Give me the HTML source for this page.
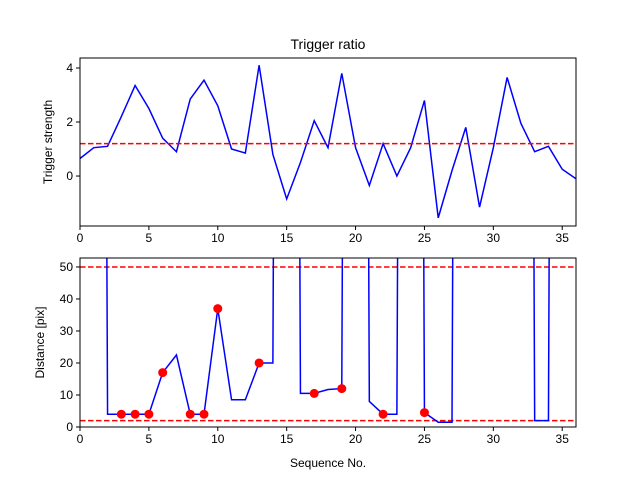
<!DOCTYPE html>
<html><head><meta charset="utf-8"><style>body{margin:0;background:#fff}svg{display:block;font-family:"Liberation Sans",sans-serif}</style></head>
<body>
<svg id="c" width="640" height="480"></svg>
<script>
const seq = [0,1,2,3,4,5,6,7,8,9,10,11,12,13,14,15,16,17,18,19,20,21,22,23,24,25,26,27,28,29,30,31,32,33,34,35,36];
const trigger = [0.65,1.05,1.1,2.2,3.35,2.5,1.4,0.9,2.85,3.55,2.6,1.0,0.85,4.1,0.8,-0.85,0.5,2.05,1.05,3.8,1.05,-0.35,1.2,0.0,1.05,2.8,-1.55,0.2,1.8,-1.15,1.05,3.65,1.95,0.9,1.1,0.25,-0.1];
const triggerThreshold = 1.2;
const distance = [1000,1000,4,4,4,4,17,22.5,4,4,37,8.5,8.5,20,20,1000,10.5,10.5,11.7,12,1000,8,4,4,1000,4.5,1.5,1.5,1000,1000,1000,1000,1000,2,2,1000,1000];
const hitIdx = [3,4,5,6,8,9,10,13,17,19,22,25];
const distLines = [50,2];
const xTicks = [0,5,10,15,20,25,30,35];
const topYTicks = [0,2,4];
const botYTicks = [0,10,20,30,40,50];

const NS="http://www.w3.org/2000/svg", svg=document.getElementById('c');
function mk(t,a,p){const e=document.createElementNS(NS,t);for(const k in a)e.setAttribute(k,a[k]);(p||svg).appendChild(e);return e;}
const L=80,R=576;
const xs=v=>L+(v/36)*(R-L);
const P1={t:58,b:226,min:-1.85,max:4.37}, P2={t:258,b:427,min:0,max:52.8};
const ys=(P,v)=>P.b-(v-P.min)/(P.max-P.min)*(P.b-P.t);
function panel(P,name,yt,ylabel,xlabel){
  const g=mk('g',{});
  mk('rect',{x:L,y:P.t,width:R-L,height:P.b-P.t,fill:'#fff'},g);
  const cid='clip-'+name;const cp=mk('clipPath',{id:cid},g);mk('rect',{x:L,y:P.t,width:R-L,height:P.b-P.t},cp);
  return {g,cid};
}
function axes(P,g,yt,ylabel,xlabel,name){
  mk('rect',{x:L,y:P.t,width:R-L,height:P.b-P.t,fill:'none',stroke:'#000','stroke-width':1},g);
  xTicks.forEach(v=>{const x=xs(v);mk('line',{x1:x,x2:x,y1:P.b,y2:P.b+4,stroke:'#000'},g);
    const t=mk('text',{x:x,y:P.b+16,'font-size':12,'text-anchor':'middle'},g);t.textContent=v;
    });
  yt.forEach(v=>{const y=ys(P,v);mk('line',{x1:L-4,x2:L,y1:y,y2:y,stroke:'#000'},g);
    const t=mk('text',{x:L-7,y:y+4,'font-size':12,'text-anchor':'end'},g);t.textContent=v;
    });
  const yl=mk('text',{x:0,y:0,'font-size':12,'text-anchor':'middle',transform:`translate(${name=='top'?52:44},${(P.t+P.b)/2}) rotate(-90)`},g);yl.textContent=ylabel;
  
}
// top
const a=panel(P1,'top');
const t=mk('text',{x:328,y:49,'font-size':14,'text-anchor':'middle'});t.textContent='Trigger ratio';

const xl1=mk('text',{x:328,y:266,'font-size':12,'text-anchor':'middle'});xl1.textContent='Sequence No.';

const c1=mk('g',{'clip-path':'url(#clip-top)'},a.g);
const l1=mk('polyline',{points:seq.map((s,i)=>xs(s)+','+ys(P1,trigger[i])).join(' '),fill:'none',stroke:'#0000ff','stroke-width':1.5},c1);

const th=mk('line',{x1:L,x2:R,y1:ys(P1,triggerThreshold),y2:ys(P1,triggerThreshold),stroke:'#ff0000','stroke-width':1.5,'stroke-dasharray':'5.5,2.5'},c1);

axes(P1,a.g,topYTicks,'Trigger strength','','top');
// bottom
const b=panel(P2,'bottom');
const c2=mk('g',{'clip-path':'url(#clip-bottom)'},b.g);
distLines.forEach(v=>{const d=mk('line',{x1:L,x2:R,y1:ys(P2,v),y2:ys(P2,v),stroke:'#ff0000','stroke-width':1.5,'stroke-dasharray':'5.5,2.5'},c2);
  });
const l2=mk('polyline',{points:seq.map((s,i)=>xs(s)+','+ys(P2,distance[i])).join(' '),fill:'none',stroke:'#0000ff','stroke-width':1.5},c2);

hitIdx.forEach(i=>{const p=mk('circle',{cx:xs(seq[i]),cy:ys(P2,distance[i]),r:4.5,fill:'#ff0000'},c2);
  });
axes(P2,b.g,botYTicks,'Distance [pix]','','bottom');
const xl2=mk('text',{x:328,y:467,'font-size':12,'text-anchor':'middle'});xl2.textContent='Sequence No.';

</script>
</body></html>
